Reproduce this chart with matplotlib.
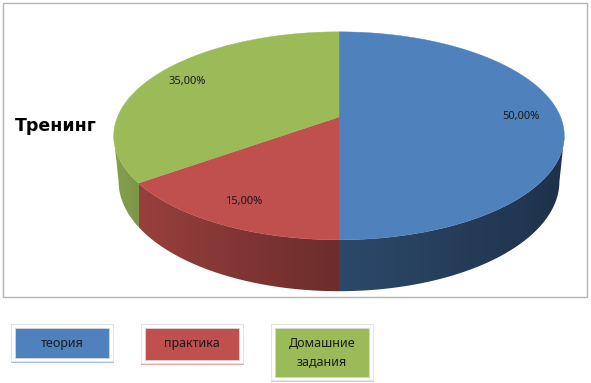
"""
3D-looking pie chart for the training breakdown (Excel style),
drawn by hand with patches in pixel coordinates.
"""

import numpy as np
import matplotlib
matplotlib.use('Agg')
import matplotlib.pyplot as plt
from matplotlib.patches import Polygon, Rectangle
from matplotlib.colors import to_rgb

# data
categories = ['теория', 'практика', 'Домашние\nзадания']
values = [50.0, 15.0, 35.0]
value_labels = ['50,00%', '15,00%', '35,00%']
colors = ['#4F81BD', '#C0504D', '#9BBB59']
title = 'Тренинг'

plt.rcParams['font.family'] = ['Noto Sans', 'DejaVu Sans']

# camera / layout for the fake 3d pie (pixels)
cx, cy = 339.0, 117.0      # screen pos of pie centre
tilt = np.radians(27.0)
dist = 4.92
focal = 1090.0
height = 0.232             # thickness of the pie


def project(X, Z, Y=0.0):
    # X right, Z away from viewer, Y up. returns pixel coords (y down)
    yc = Z * np.sin(tilt) + Y * np.cos(tilt)
    d = dist + Z * np.cos(tilt) - Y * np.sin(tilt)
    return cx + X * focal / d, cy - yc * focal / d


def shade(c):
    # lighting from the left: factor by x-component of side normal
    return np.interp(c, [-1.0, -0.8, 0.0, 1.0], [0.88, 0.80, 0.56, 0.37])


fig = plt.figure(figsize=(5.91, 3.83), dpi=100)
ax = fig.add_axes([0, 0, 1, 1])
ax.set_xlim(0, 591)
ax.set_ylim(383, 0)
ax.axis('off')

# chart border
ax.add_patch(Rectangle((3, 3), 584, 294, fill=False, edgecolor='#b4b4b4',
                       linewidth=1.0, zorder=1))

# wedge angles: start at top, go clockwise
fracs = np.array(values) / np.sum(values)
ends = 90.0 - 360.0 * np.cumsum(fracs)
starts = np.concatenate([[90.0], ends[:-1]])


def wedge_index(t_deg):
    for i in range(len(values)):
        lo, hi = ends[i], starts[i]
        tt = t_deg
        while tt > hi:
            tt -= 360.0
        while tt < lo:
            tt += 360.0
        if lo <= tt <= hi:
            return i
    return 0


# visible (front) part of the side: between the silhouette tangents
tt = np.linspace(150, 390, 4801)
px, _ = project(np.cos(np.radians(tt)), np.sin(np.radians(tt)))
t_left = tt[np.argmin(px)]
t_right = tt[np.argmax(px)]
tf = np.linspace(t_left, t_right, 600)
tr = np.radians(tf)
top_x, top_y = project(np.cos(tr), np.sin(tr))
bot_x, bot_y = project(np.cos(tr), np.sin(tr), -height)
side_pts = np.column_stack([np.concatenate([top_x, bot_x[::-1]]),
                            np.concatenate([top_y, bot_y[::-1]])])
side_poly = Polygon(side_pts, closed=True, facecolor='none',
                    edgecolor='none', zorder=2)
ax.add_patch(side_poly)

# per-column gradient image for the side
x0i, x1i = np.floor(top_x.min()) - 1, np.ceil(top_x.max()) + 1
y0i, y1i = np.floor(top_y.min()) - 1, np.ceil(bot_y.max()) + 1
ncol = int(x1i - x0i)
cols_x = np.linspace(x0i, x1i, ncol)
t_of_x = np.interp(cols_x, top_x, tf)
img = np.zeros((2, ncol, 3))
for j in range(ncol):
    base = np.array(to_rgb(colors[wedge_index(t_of_x[j])]))
    img[:, j, :] = base * shade(np.cos(np.radians(t_of_x[j])))
im = ax.imshow(img, extent=[x0i, x1i, y1i, y0i], origin='upper',
               aspect='auto', interpolation='nearest', zorder=2)
im.set_clip_path(side_poly)
ax.set_xlim(0, 591)
ax.set_ylim(383, 0)

# top faces
xc0, yc0 = project(0.0, 0.0)
for i in range(len(values)):
    ta = np.radians(np.linspace(starts[i], ends[i], 200))
    xs, ys = project(np.cos(ta), np.sin(ta))
    pts = np.column_stack([np.concatenate([[xc0], xs]),
                           np.concatenate([[yc0], ys])])
    ax.add_patch(Polygon(pts, closed=True, facecolor=colors[i],
                         edgecolor=colors[i], linewidth=0.3, zorder=3))

    # value label
    tm = np.radians(0.5 * (starts[i] + ends[i]))
    lx, ly = project(0.82 * np.cos(tm), 0.82 * np.sin(tm))
    ax.text(lx, ly, value_labels[i], ha='center', va='center',
            fontsize=8, color='#1a1a1a', zorder=4)

# title on the left
ax.text(15, 126, title, ha='left', va='center', fontsize=12.5,
        fontweight='bold', family=['DejaVu Sans'], color='black')

# legend boxes along the bottom
box_x = [15, 145, 275]
box_h = [30, 32, 49]
for i in range(len(categories)):
    x = box_x[i]
    y = 328
    w = 94
    h = box_h[i]
    # shadow under the frame
    sh = 0.5 * np.array(to_rgb(colors[i])) + 0.5 * np.ones(3)
    ax.add_patch(Rectangle((x - 4, y - 2), w + 9, h + 7, facecolor=sh,
                           edgecolor='none', zorder=2))
    # white frame
    ax.add_patch(Rectangle((x - 4, y - 4), w + 8, h + 7, facecolor='white',
                           edgecolor='#e4e4e4', linewidth=0.8, zorder=3))
    ax.add_patch(Rectangle((x, y), w, h, facecolor=colors[i],
                           edgecolor='#d8d8d8', linewidth=0.6, zorder=4))
    ax.text(x + w / 2, y + h / 2, categories[i], ha='center', va='center',
            fontsize=9, color='#1a1a1a', linespacing=1.45, zorder=5)

fig.savefig('out.png', dpi=100)
